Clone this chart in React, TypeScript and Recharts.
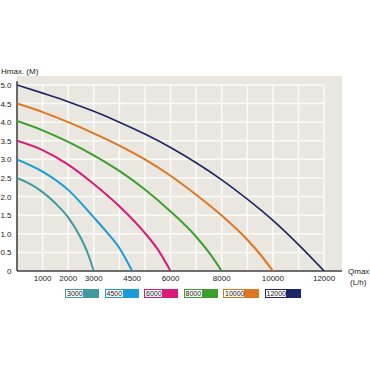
import React from 'react';
import { LineChart, Line, XAxis, YAxis, ReferenceArea, ReferenceLine, Legend } from 'recharts';

// Pump curves: head (m) against flow (L/h), one array per model
const pump3000 = [
  { q: 0, h: 2.5 }, { q: 500, h: 2.34 }, { q: 1000, h: 2.12 }, { q: 1500, h: 1.82 },
  { q: 2000, h: 1.44 }, { q: 2500, h: 0.88 }, { q: 2780, h: 0.45 }, { q: 3000, h: 0 },
];
const pump4500 = [
  { q: 0, h: 3.0 }, { q: 1000, h: 2.67 }, { q: 2000, h: 2.18 }, { q: 3000, h: 1.44 },
  { q: 3500, h: 1.05 }, { q: 4000, h: 0.62 }, { q: 4500, h: 0 },
];
const pump6000 = [
  { q: 0, h: 3.5 }, { q: 1000, h: 3.25 }, { q: 2000, h: 2.86 }, { q: 3000, h: 2.34 },
  { q: 4000, h: 1.74 }, { q: 5000, h: 1.02 }, { q: 5500, h: 0.58 }, { q: 6000, h: 0 },
];
const pump8000 = [
  { q: 0, h: 4.03 }, { q: 1000, h: 3.78 }, { q: 2000, h: 3.47 }, { q: 3000, h: 3.11 },
  { q: 4000, h: 2.69 }, { q: 5000, h: 2.19 }, { q: 6000, h: 1.6 }, { q: 7000, h: 0.92 },
  { q: 7500, h: 0.5 }, { q: 8000, h: 0 },
];
const pump10000 = [
  { q: 0, h: 4.5 }, { q: 1000, h: 4.27 }, { q: 2000, h: 4.0 }, { q: 3000, h: 3.7 },
  { q: 4000, h: 3.37 }, { q: 5000, h: 3.0 }, { q: 6000, h: 2.56 }, { q: 7000, h: 2.05 },
  { q: 8000, h: 1.49 }, { q: 9000, h: 0.84 }, { q: 9500, h: 0.45 }, { q: 10000, h: 0 },
];
const pump12000 = [
  { q: 0, h: 5.0 }, { q: 1000, h: 4.78 }, { q: 2000, h: 4.55 }, { q: 3000, h: 4.29 },
  { q: 4000, h: 4.0 }, { q: 5000, h: 3.68 }, { q: 6000, h: 3.32 }, { q: 7000, h: 2.91 },
  { q: 8000, h: 2.45 }, { q: 9000, h: 1.93 }, { q: 10000, h: 1.36 }, { q: 11000, h: 0.71 },
  { q: 12000, h: 0 },
];

const flowTicks = [1000, 2000, 3000, 4500, 6000, 8000, 10000, 12000];
const headTicks = [0, 0.5, 1, 1.5, 2, 2.5, 3, 3.5, 4, 4.5, 5];
const gridFlow = [1000, 2000, 3000, 4000, 5000, 6000, 7000, 8000, 9000, 10000, 11000, 12000];
const gridHead = [0.5, 1, 1.5, 2, 2.5, 3, 3.5, 4, 4.5, 5];

const series = [
  { name: '3000', data: pump3000, color: '#3f9ba1', width: 2 },
  { name: '4500', data: pump4500, color: '#1b9bd7', width: 2 },
  { name: '6000', data: pump6000, color: '#d81b78', width: 2 },
  { name: '8000', data: pump8000, color: '#3c9f2d', width: 2 },
  { name: '10000', data: pump10000, color: '#e0761f', width: 2 },
  { name: '12000', data: pump12000, color: '#1e2468', width: 1.6 },
];

const FONT = '"Liberation Sans", Arial, Helvetica, sans-serif';

const FlowTick = ({ x, y, payload }: any) => (
  <text x={x} y={y + 2} textAnchor="middle" fontSize={8} fontFamily={FONT} fill="#222">
    {payload.value}
  </text>
);

const HeadTick = ({ y, payload }: any) => (
  <text x={11.5} y={y + 3} textAnchor="end" fontSize={8} fontFamily={FONT} fill="#222">
    {payload.value === 0 ? '0' : payload.value.toFixed(1)}
  </text>
);

const PumpLegend = () => (
  <div style={{ display: 'flex', paddingLeft: 65, gap: 5.5, fontFamily: FONT }}>
    {series.map((s) => (
      <div key={s.name} style={{ display: 'flex', height: 9 }}>
        <div
          style={{
            boxSizing: 'border-box',
            width: s.name.length > 4 ? 22 : 19,
            height: 9,
            border: `1px solid ${s.color}`,
            background: '#fbfbfb',
            fontSize: 7,
            lineHeight: '7px',
            color: '#222',
            paddingLeft: 1,
          }}
        >
          {s.name}
        </div>
        <div style={{ width: s.name.length > 4 ? 14 : 15, height: 9, background: s.color }} />
      </div>
    ))}
  </div>
);

export default function App() {
  return (
    <div style={{ position: 'absolute', left: 0, top: 0, width: 370, height: 370, background: '#fff' }}>
      <LineChart width={370} height={370} margin={{ top: 76, right: 28, bottom: 67, left: 0 }}>
        <XAxis
          dataKey="q"
          type="number"
          domain={[0, 12700]}
          ticks={flowTicks}
          interval={0}
          allowDataOverflow
          axisLine={false}
          tickLine={false}
          height={22}
          tick={<FlowTick />}
          label={{
            content: () => (
              <g fontFamily={FONT} fontSize={8} fill="#222">
                <text x={348} y={274}>Qmax</text>
                <text x={350} y={285}>(L/h)</text>
              </g>
            ),
          }}
        />
        <YAxis
          type="number"
          domain={[0, 5.24]}
          ticks={headTicks}
          interval={0}
          allowDataOverflow
          axisLine={false}
          tickLine={false}
          width={17}
          tick={<HeadTick />}
          label={{
            content: () => (
              <text x={1} y={74} fontFamily={FONT} fontSize={8} fill="#222">
                Hmax. (M)
              </text>
            ),
          }}
        />
        <ReferenceArea x1={0} x2={12700} y1={0} y2={5.24} fill="#e9e7e0" fillOpacity={1} stroke="none" />
        {gridFlow.map((q) => (
          <ReferenceLine key={'v' + q} segment={[{ x: q, y: 0 }, { x: q, y: 5 }]} stroke="#fbfbf8" strokeWidth={1.5} />
        ))}
        {gridHead.map((h) => (
          <ReferenceLine key={'h' + h} segment={[{ x: 0, y: h }, { x: 12000, y: h }]} stroke="#fbfbf8" strokeWidth={1.5} />
        ))}
        <ReferenceLine segment={[{ x: 0, y: 0 }, { x: 12700, y: 0 }]} stroke="#6e6e6e" strokeWidth={2} />
        <ReferenceLine segment={[{ x: 0, y: 0 }, { x: 0, y: 5.1 }]} stroke="#3a3a3a" strokeWidth={1.5} />
        {series.map((s) => (
          <Line
            key={s.name}
            data={s.data}
            dataKey="h"
            name={s.name}
            type="monotone"
            stroke={s.color}
            strokeWidth={s.width}
            dot={false}
            activeDot={false}
            isAnimationActive={false}
          />
        ))}
        <Legend
          verticalAlign="bottom"
          height={10}
          wrapperStyle={{ position: 'absolute', top: 289, left: 0, width: 370 }}
          content={<PumpLegend />}
        />
      </LineChart>
    </div>
  );
}
